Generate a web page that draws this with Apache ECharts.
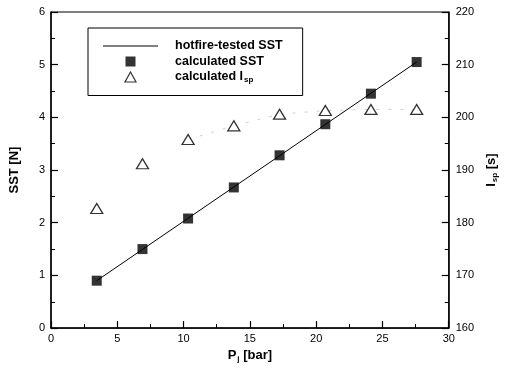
<!DOCTYPE html>
<html>
<head>
<meta charset="utf-8">
<script src="https://cdn.jsdelivr.net/npm/echarts@6/dist/echarts.min.js"></script>
<style>
  html, body { margin: 0; padding: 0; background: #fff; }
  #chart { width: 507px; height: 368px; }
</style>
</head>
<body>
<div id="chart"></div>
<script>
// chamber pressure [bar]
const pressure = [3.45, 6.9, 10.34, 13.79, 17.24, 20.69, 24.13, 27.58]
// calculated SST [N]
const sstCalc = [0.90, 1.50, 2.08, 2.67, 3.28, 3.87, 4.45, 5.05]
// calculated Isp [s]
const ispCalc = [182.7, 191.2, 195.8, 198.4, 200.6, 201.3, 201.5, 201.5]
// hotfire-tested SST line (end points)
const fitX = [3.45, 27.58]
const fitY = [0.90, 5.05]

const xTicks = { min: 0, max: 30, interval: 5 }
const leftTicks = { min: 0, max: 6, interval: 1 }
const rightTicks = { min: 160, max: 220, interval: 10 }

const font = 'Liberation Sans, Arial, sans-serif'

const myChart = echarts.init(document.getElementById('chart'))

const axisCommon = {
  axisLine: { show: true, lineStyle: { color: '#000', width: 1.5 } },
  axisTick: { show: true, inside: true, length: 7, lineStyle: { color: '#000', width: 1.2 } },
  minorTick: { show: true, splitNumber: 2, length: 4, lineStyle: { color: '#000', width: 1 } },
  splitLine: { show: false },
  axisLabel: { color: '#000', fontFamily: font, fontSize: 11 }
}

const titleRich = {
  b: { fontFamily: font, fontSize: 13, fontWeight: 'bold', color: '#000' },
  s: { fontFamily: font, fontSize: 8, fontWeight: 'bold', color: '#000', padding: [7, 0, 0, 1] }
}

const option = {
  animation: false,
  backgroundColor: '#fff',
  grid: {
    left: 50,
    right: 51,
    top: 12,
    bottom: 35,
    show: true,
    borderColor: '#000',
    borderWidth: 1
  },
  legend: {
    orient: 'vertical',
    left: 88,
    top: 28,
    padding: [11.5, 20, 11.5, 15],
    borderColor: '#000',
    borderWidth: 1,
    itemWidth: 55,
    itemHeight: 10,
    itemGap: 2.5,
    symbolKeepAspect: true,
    textStyle: {
      color: '#000',
      fontFamily: font,
      fontSize: 12.5,
      fontWeight: 'bold',
      padding: [0, 0, 0, 12],
      rich: {
        s: { fontFamily: font, fontSize: 8, fontWeight: 'bold', color: '#000', padding: [6, 0, 0, 1] }
      }
    },
    data: [
      { name: 'hotfire-tested SST', icon: 'path://M0,0L55,0L55,1.2L0,1.2Z' },
      { name: 'calculated SST', icon: 'path://M0,0L9,0L9,9L0,9Z', itemStyle: { color: '#000' } },
      {
        name: 'calculated Isp',
        icon: 'path://M5.5,0L11,10L0,10Z',
        itemStyle: { color: '#fff', borderColor: '#000', borderWidth: 1.2 }
      }
    ],
    formatter: function (name) {
      if (name === 'calculated Isp') return 'calculated I{s|sp}'
      return name
    }
  },
  xAxis: Object.assign({}, axisCommon, {
    type: 'value',
    min: xTicks.min,
    max: xTicks.max,
    interval: xTicks.interval,
    axisLabel: Object.assign({}, axisCommon.axisLabel, { margin: 5 }),
    name: '{b|P}{s|j}{b| [bar]}',
    nameLocation: 'middle',
    nameGap: 6,
    nameTextStyle: { rich: titleRich }
  }),
  yAxis: [
    Object.assign({}, axisCommon, {
      type: 'value',
      position: 'left',
      min: leftTicks.min,
      max: leftTicks.max,
      interval: leftTicks.interval,
      axisLabel: Object.assign({}, axisCommon.axisLabel, { margin: 6 }),
      name: 'SST [N]',
      nameLocation: 'middle',
      nameRotate: 90,
      nameGap: 30,
      nameTextStyle: { fontFamily: font, fontSize: 13, fontWeight: 'bold', color: '#000' }
    }),
    Object.assign({}, axisCommon, {
      type: 'value',
      position: 'right',
      min: rightTicks.min,
      max: rightTicks.max,
      interval: rightTicks.interval,
      axisLabel: Object.assign({}, axisCommon.axisLabel, { margin: 7 }),
      name: '{b|I}{s|sp}{b| [s]}',
      nameLocation: 'middle',
      nameRotate: 90,
      nameGap: 24,
      nameTextStyle: { rich: titleRich }
    })
  ],
  series: [
    {
      name: 'hotfire-tested SST',
      type: 'line',
      yAxisIndex: 0,
      symbol: 'none',
      lineStyle: { color: '#000', width: 1 },
      itemStyle: { color: '#000' },
      data: fitX.map((x, i) => [x, fitY[i]])
    },
    {
      name: 'calculated SST',
      type: 'scatter',
      yAxisIndex: 0,
      symbol: 'rect',
      symbolSize: 10,
      itemStyle: { color: '#000' },
      data: pressure.map((x, i) => [x, sstCalc[i]]),
      z: 3
    },
    {
      name: 'Isp trend',
      type: 'line',
      yAxisIndex: 1,
      symbol: 'none',
      lineStyle: { color: '#888', width: 1, type: [3, 9], opacity: 0.4 },
      data: pressure.slice(2).map((x, i) => [x, ispCalc[i + 2]]),
      silent: true
    },
    {
      name: 'calculated Isp',
      type: 'scatter',
      yAxisIndex: 1,
      symbol: 'triangle',
      symbolSize: [12, 10],
      itemStyle: { color: '#fff', borderColor: '#000', borderWidth: 1.3 },
      data: pressure.map((x, i) => [x, ispCalc[i]]),
      z: 3
    }
  ]
}

myChart.setOption(option)
</script>
</body>
</html>
